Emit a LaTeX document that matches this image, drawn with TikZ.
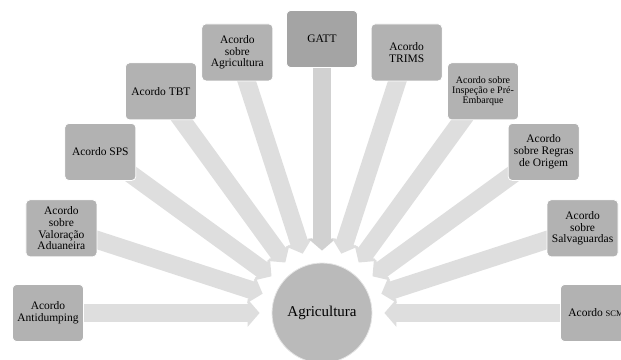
\documentclass[tikz,border=0pt]{standalone}
\usepackage{fontspec}
\setmainfont{Liberation Serif}
\usetikzlibrary{arrows.meta,backgrounds}

\definecolor{boxgray}{gray}{0.70}
\definecolor{hubgray}{gray}{0.73}
\definecolor{arrowgray}{gray}{0.87}

\tikzset{
	accord/.style={draw=white, line width=0.8pt, fill=boxgray, rounded corners=4pt,
		minimum width=71pt, minimum height=57pt, inner sep=1pt, align=center,
		font=\fontsize{11.5}{11.7}\selectfont},
	flow/.style={arrowgray, line width=18pt, shorten >=12pt,
		-{Triangle[width=27pt, length=12pt]}},
}

\begin{document}
\begin{tikzpicture}[x=1pt, y=1pt]
		\useasboundingbox (-322,-46) rectangle (299,313);
		
		\node[circle, draw=white!90!black, line width=0.8pt, fill=hubgray, minimum size=100pt,
			font=\fontsize{15}{17}\selectfont] (hub) at (0,0) {Agricultura};
		
		\node[accord] (antidumping) at (180:274) {Acordo\\Antidumping};
		\node[accord] (valoracao) at (162:274) {Acordo\\sobre\\Valoração\\Aduaneira};
		\node[accord] (sps) at (144:274) {Acordo SPS};
		\node[accord] (tbt) at (126:274) {Acordo TBT};
		\node[accord] (agricultura) at (108:274) {Acordo\\sobre\\Agricultura};
		\node[accord, fill=boxgray!92!black] (gatt) at (90:274) {GATT};
		\node[accord] (trims) at (72:274) {Acordo\\TRIMS};
		\node[accord, font=\fontsize{10}{10.2}\selectfont] (inspecao) at (54:274) {Acordo sobre\\Inspeção e Pré-\\Embarque};
		\node[accord] (origem) at (36:274) {Acordo\\sobre Regras\\de Origem};
		\node[accord] (salvaguardas) at (18:274) {Acordo\\sobre\\Salvaguardas};
		\node[accord] (scm) at (0:274) {Acordo {\fontsize{8.5}{10}\selectfont SCM}};
		
		\begin{scope}[on background layer]
			\draw[flow] (antidumping.center) -- (hub);
			\draw[flow] (valoracao.center) -- (hub);
			\draw[flow] (sps.center) -- (hub);
			\draw[flow] (tbt.center) -- (hub);
			\draw[flow] (agricultura.center) -- (hub);
			\draw[flow, arrowgray!94!black] (gatt.center) -- (hub);
			\draw[flow] (trims.center) -- (hub);
			\draw[flow] (inspecao.center) -- (hub);
			\draw[flow] (origem.center) -- (hub);
			\draw[flow] (salvaguardas.center) -- (hub);
			\draw[flow] (scm.center) -- (hub);
		\end{scope}
	\end{tikzpicture}
\end{document}
